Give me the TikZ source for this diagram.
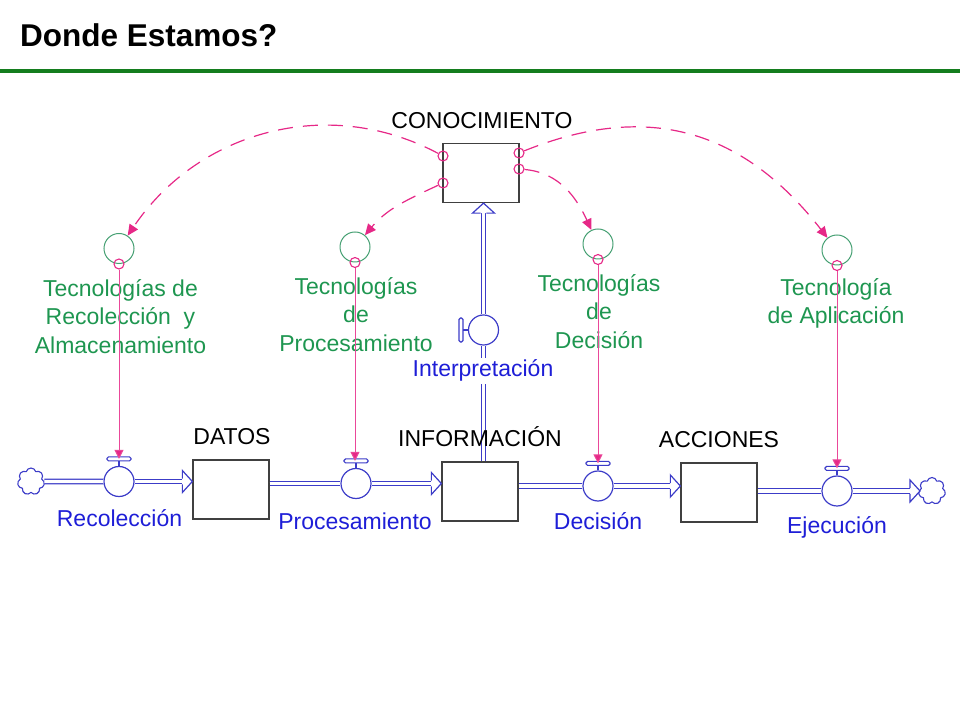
\documentclass[tikz,border=0pt]{standalone}
\usepackage{fontspec}
\setmainfont{Liberation Sans}
\usepackage{tikz}
\usetikzlibrary{arrows.meta, shapes.symbols}

\definecolor{rulegreen}{RGB}{20,125,30}
\definecolor{txtgreen}{RGB}{30,150,80}
\definecolor{auxgreen}{RGB}{70,160,115}
\definecolor{linkpink}{RGB}{230,40,135}
\definecolor{lblblue}{RGB}{30,30,215}
\definecolor{pipeblue}{RGB}{60,60,200}

\tikzset{
  stock/.style={draw=black!75, line width=1.3pt, minimum width=76pt, minimum height=59pt, inner sep=0pt},
  valve/.style={circle, draw=pipeblue, line width=1.2pt, fill=white, minimum size=30pt, inner sep=0pt},
  aux/.style={circle, draw=auxgreen, line width=1pt, minimum size=30pt, inner sep=0pt},
  tap/.style={circle, draw=linkpink, line width=1.1pt, minimum size=10pt, inner sep=0pt},
  sink/.style={cloud, cloud puffs=7, aspect=1, draw=pipeblue, line width=1.1pt, minimum width=27pt, minimum height=27pt, inner sep=0pt},
  pipe/.style={draw=pipeblue, line width=1.2pt, double=white, double distance=3.2pt},
  link/.style={draw=linkpink!85, line width=1pt, -{Triangle[length=9pt, width=9pt, fill=linkpink]}},
  dlink/.style={draw=linkpink, line width=1.2pt, dash pattern=on 15pt off 10pt, -{Triangle[length=11pt, width=10pt]}},
  blk/.style={font=\fontsize{23}{28.5}\selectfont, text=black, inner sep=0pt, anchor=base},
  flw/.style={font=\fontsize{23}{28.5}\selectfont, text=lblblue, inner sep=0pt, anchor=base},
  tec/.style={font=\fontsize{23}{28.5}\selectfont, text=txtgreen, inner sep=0pt, align=center, anchor=north},
  flowhead/.pic={\draw[pipeblue, line width=1.2pt, fill=white] (-10,2.8) -- (-10,11) -- (0,0) -- (-10,-11) -- (-10,-2.8);}
}

\begin{document}
\begin{tikzpicture}[x=1pt, y=1pt]
\useasboundingbox (0,0) rectangle (960,720);
\node[font=\fontsize{31.5}{36}\selectfont\bfseries, inner sep=0pt, anchor=base west] (title) at (20,673) {Donde Estamos?};
\draw[rulegreen, line width=4pt] (0,649) -- (960,649);
%
% stocks
\node[stock] (conoc) at (481,547) {};
\node[stock] (datos) at (231,230.5) {};
\node[stock] (info) at (480,228.5) {};
\node[stock] (acc) at (719,227.5) {};
%
% flows
\node[sink] (src) at (31,238.5) {};
\node[valve] (vRec) at (119,238.5) {};
\coordinate (inDatos) at (datos.west |- vRec);
\node[valve] (vProc) at (356,236.5) {};
\coordinate (inInfo) at (info.west |- vProc);
\node[valve] (vDec) at (598,234) {};
\coordinate (inAcc) at (acc.west |- vDec);
\node[valve] (vEj) at (837,229) {};
\coordinate (inSnk) at (920,229);
\node[sink] (snk) at (932,229) {};
\node[valve] (vInt) at (483.5,390) {};
\coordinate (inConoc) at (conoc.south -| vInt);
%
\draw[pipe] (src) -- (vRec);
\draw[pipe, shorten >=10pt] (vRec) -- (inDatos);
\draw[pipe] (datos.east |- vProc) -- (vProc);
\draw[pipe, shorten >=10pt] (vProc) -- (inInfo);
\draw[pipe] (info.east |- vDec) -- (vDec);
\draw[pipe, shorten >=10pt] (vDec) -- (inAcc);
\draw[pipe] (acc.east |- vEj) -- (vEj);
\draw[pipe, shorten >=10pt] (vEj) -- (inSnk);
\draw[pipe] (info.north -| vInt) -- (vInt);
\draw[pipe, shorten >=10pt] (vInt) -- (inConoc);
\pic at (inDatos) {flowhead};
\pic at (inInfo) {flowhead};
\pic at (inAcc) {flowhead};
\pic at (inSnk) {flowhead};
\pic[rotate=90] at (inConoc) {flowhead};
%
% valve handles
\foreach \v in {vRec, vProc, vDec, vEj} {
  \draw[pipeblue, line width=1.2pt] (\v.north) -- ++(0,5);
  \draw[pipeblue, line width=1.2pt, fill=white, rounded corners=1.5pt] ([shift={(-12,5)}]\v.north) rectangle ([shift={(12,9)}]\v.north);
  \coordinate (h\v) at ([yshift=7]\v.north);
}
\draw[pipeblue, line width=1.2pt] (vInt.west) -- ++(-5,0);
\draw[pipeblue, line width=1.2pt, fill=white, rounded corners=1.5pt] ([shift={(-9,-12)}]vInt.west) rectangle ([shift={(-5,12)}]vInt.west);
%
% converters
\node[aux] (aRec) at (119,471.5) {};
\node[aux] (aProc) at (355,473) {};
\node[aux] (aDec) at (598,476) {};
\node[aux] (aApl) at (837,470) {};
\node[tap] (tRec) at (aRec.south) {};
\node[tap] (tProc) at (aProc.south) {};
\node[tap] (tDec) at (aDec.south) {};
\node[tap] (tApl) at (aApl.south) {};
\node[tap] (k1) at (443,564) {};
\node[tap] (k2) at (443,537) {};
\node[tap] (k3) at (519,567) {};
\node[tap] (k4) at (519,551) {};
%
% labels
\node[blk] (lConoc) at (482,591) {CONOCIMIENTO};
\node[blk] (lDatos) at (232,275) {DATOS};
\node[blk] (lInfo) at (480,273) {INFORMACIÓN};
\node[blk] (lAcc) at (719,272) {ACCIONES};
\node[flw] (lRec) at (119.5,193) {Recolección};
\node[flw] (lProc) at (355,190) {Procesamiento};
\node[flw] (lDec) at (598,190) {Decisión};
\node[flw] (lEj) at (837,186) {Ejecución};
\node[flw, fill=white, inner ysep=2pt] (lInt) at (483,343) {Interpretación};
\node[tec] (xRec) at (120.5,441) {Tecnologías de\\Recolección\ \ y\\Almacenamiento};
\node[tec] (xProc) at (356,443) {Tecnologías\\de\\Procesamiento};
\node[tec] (xDec) at (599,446) {Tecnologías\\de\\Decisión};
\node[tec] (xApl) at (836,442) {Tecnología\\de Aplicación};
%
% information links
\draw[link] (tRec) -- (tRec |- hvRec);
\draw[link] (tProc) -- (tProc |- hvProc);
\draw[link] (tDec) -- (tDec |- hvDec);
\draw[link] (tApl) -- (tApl |- hvEj);
\draw[dlink] (k1) to[out=152, in=56] (aRec);
\draw[dlink] (k2) to[out=205, in=50] (aProc);
\draw[dlink] (k3) to[out=22, in=128, looseness=1.1] (aApl);
\draw[dlink] (k4) to[out=-5, in=115] (aDec);
\end{tikzpicture}
\end{document}
